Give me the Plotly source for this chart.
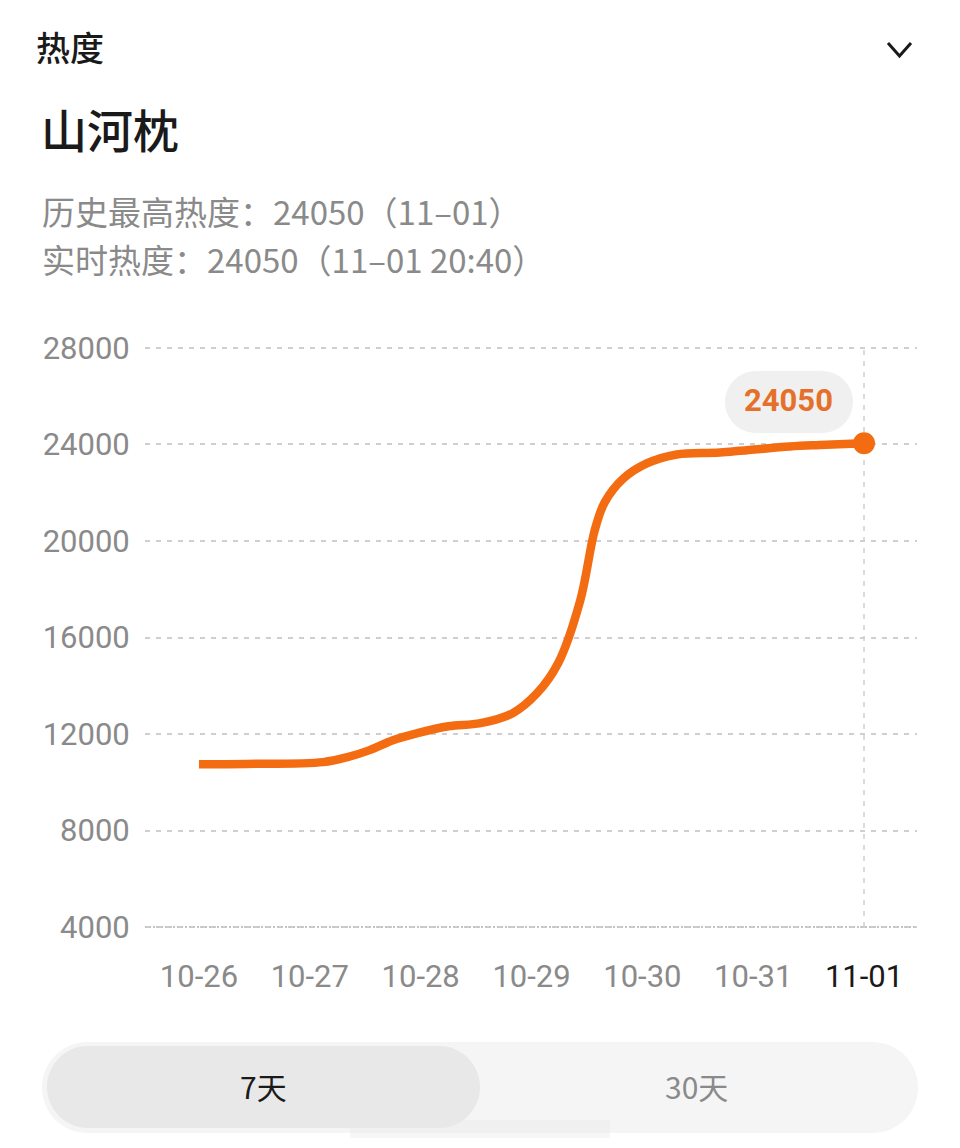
import plotly.graph_objects as go

W = 960
H = 1148

# chart data
day_labels = ["10-26", "10-27", "10-28", "10-29", "10-30", "10-31", "11-01"]
day_ticks = [0, 1, 2, 3, 4, 5, 6]
y_ticks = [4000, 8000, 12000, 16000, 20000, 24000, 28000]
y_tick_labels = ["4000", "8000", "12000", "16000", "20000", "24000", "28000"]

days = [0, 0.43, 1.12, 1.34, 1.54, 1.75, 1.97, 2.25, 2.54, 2.83, 3.05, 3.24,
        3.44, 3.57, 3.66, 3.83, 4.04, 4.31, 4.70, 5.33, 5.60, 6]
heat = [10750, 10760, 10835, 11042, 11332, 11746, 12035, 12320, 12449, 12863, 13691,
        14933, 17542, 20440, 21599, 22592, 23213, 23586, 23669, 23917, 23979, 24050]

ORANGE = "#F36C12"
GREY = "#8A8A8A"
GRID = "#CFCFCF"
CJK = "Noto Sans CJK SC"
K = 0.5523


def px(x):
    return x / W


def py(y):
    return 1 - y / H


def stadium(x0, y0, x1, y1):
    r = (y1 - y0) / 2
    c = r * (1 - K)
    return (
        f"M {px(x0 + r)} {py(y0)} L {px(x1 - r)} {py(y0)} "
        f"C {px(x1 - c)} {py(y0)} {px(x1)} {py(y0 + c)} {px(x1)} {py(y0 + r)} "
        f"C {px(x1)} {py(y1 - c)} {px(x1 - c)} {py(y1)} {px(x1 - r)} {py(y1)} "
        f"L {px(x0 + r)} {py(y1)} "
        f"C {px(x0 + c)} {py(y1)} {px(x0)} {py(y1 - c)} {px(x0)} {py(y0 + r)} "
        f"C {px(x0)} {py(y0 + c)} {px(x0 + c)} {py(y0)} {px(x0 + r)} {py(y0)} Z"
    )


def label(x, y, text, size, color, anchor="left", family=CJK):
    fig.add_annotation(
        x=px(x), y=py(y), xref="paper", yref="paper", text=text, showarrow=False,
        xanchor=anchor, yanchor="middle", borderpad=0,
        font=dict(family=family, size=size, color=color),
    )


fig = go.Figure()

# dotted floor line and the guide at the last day
fig.add_trace(go.Scatter(
    x=[-0.487, 6.478], y=[y_ticks[0], y_ticks[0]], mode="lines",
    line=dict(color="#C4C4C4", width=2, dash="2px,2px"), hoverinfo="skip",
))
fig.add_trace(go.Scatter(
    x=[day_ticks[-1], day_ticks[-1]], y=[y_ticks[0], y_ticks[-1]], mode="lines",
    line=dict(color=GRID, width=1.5, dash="5px,6px"), hoverinfo="skip",
))
fig.add_trace(go.Scatter(
    x=days, y=heat, mode="lines",
    line=dict(color=ORANGE, width=8.5, shape="spline", smoothing=1), hoverinfo="skip",
))
fig.add_trace(go.Scatter(
    x=[days[-1]], y=[heat[-1]], mode="markers",
    marker=dict(color=ORANGE, size=22, opacity=1, line_width=0), hoverinfo="skip",
))

fig.update_layout(
    width=W, height=H, showlegend=False, paper_bgcolor="white", plot_bgcolor="white",
    margin=dict(l=0, r=0, t=0, b=0),
    xaxis=dict(
        domain=[px(145), px(917)], range=[-0.487, 6.478], tickmode="array",
        tickvals=day_ticks,
        ticktext=day_labels[:-1] + [f"<span style='color:#1A1A1A'>{day_labels[-1]}</span>"],
        tickfont=dict(family="Roboto", size=31, color=GREY), automargin=False,
        ticks="outside", ticklen=19, tickcolor="rgba(0,0,0,0)", showgrid=False, zeroline=False,
    ),
    yaxis=dict(
        domain=[py(930), py(345)], range=[3876, 28124], tickmode="array", tickvals=y_ticks,
        ticktext=y_tick_labels, automargin=False,
        tickfont=dict(family="Roboto", size=31, color=GREY),
        ticks="outside", ticklen=8, tickcolor="rgba(0,0,0,0)",
        showgrid=True, gridcolor=GRID, gridwidth=1.5, griddash="5px,6px", zeroline=False,
    ),
)

fig.update_layout(shapes=[
    dict(type="path", xref="paper", yref="paper", path=stadium(725, 371, 853, 433),
         fillcolor="#F0F0F0", line_width=0, layer="below"),
    dict(type="path", xref="paper", yref="paper", path=stadium(42, 1042, 918, 1133),
         fillcolor="#F5F5F5", line_width=0, layer="below"),
    dict(type="path", xref="paper", yref="paper", path=stadium(47, 1046, 480, 1128),
         fillcolor="#E8E8E8", line_width=0, layer="below"),
    dict(type="path", xref="paper", yref="paper",
         path=f"M {px(888)} {py(43)} L {px(899.5)} {py(56)} L {px(911)} {py(43)}",
         line=dict(color="#1A1A1A", width=3)),
    # blurred watermark over the bottom of the buttons
    dict(type="rect", xref="paper", yref="paper", x0=px(350), x1=px(610), y0=py(1138), y1=py(1120),
         fillcolor="rgba(232,232,232,0.4)", line_width=0),
])

label(35, 46, "热度", 34, "#1A1A1A", family="Noto Sans CJK SC Medium")
label(40, 128, "山河枕", 46, "#1A1A1A", family="Noto Sans CJK SC Medium")
label(41, 211, "历史最高热度：24050（11–01）", 33, GREY)
label(41, 259, "实时热度：24050（11–01 20:40）", 33, GREY)
label(788.5, 401, "<b>24050</b>", 31, "#E5702A", anchor="center", family="Roboto")
label(263, 1086, "7天", 30, "#1A1A1A", anchor="center")
label(696, 1086, "30天", 30, GREY, anchor="center")

fig.write_html(
    "out.html",
    config={"displayModeBar": False},
    post_script="document.body.style.margin='0';",
)
